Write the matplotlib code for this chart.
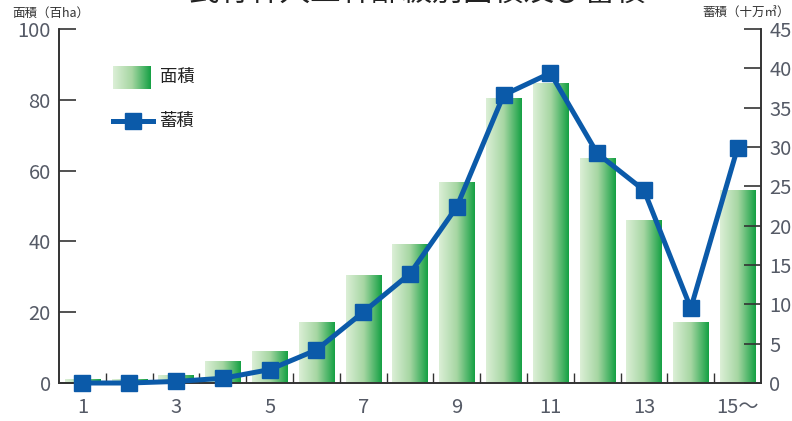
import numpy as np
import matplotlib
matplotlib.use('Agg')
import matplotlib.pyplot as plt
from matplotlib.colors import LinearSegmentedColormap
from matplotlib.lines import Line2D

plt.rcParams['font.family'] = ['Liberation Sans Narrow', 'Noto Sans CJK JP', 'DejaVu Sans']

# age classes 1..15 (15 = 15~)
classes = list(range(1, 16))
xlabels = ['1', '', '3', '', '5', '', '7', '', '9', '', '11', '', '13', '', '15～']
area = [1, 1, 2, 6, 9, 17, 30.5, 39, 56.5, 80.5, 84.5, 63.5, 46, 17, 54.5]   # 百ha
stock = [0, 0, 0.2, 0.6, 1.7, 4.2, 9, 13.9, 22.4, 36.6, 39.4, 29.2, 24.5, 9.5, 29.9]  # 十万m3

W, H = 792, 421
fig = plt.figure(figsize=(W / 100, H / 100), dpi=100)
ax = fig.add_axes([59 / W, 1 - 383 / H, (761 - 59) / W, (383 - 29) / H])
ax2 = ax.twinx()

green = LinearSegmentedColormap.from_list('g', ['#dcefd7', '#a6d6a2', '#14a043'])
grad = np.linspace(0, 1, 256).reshape(1, -1)

bars = ax.bar(classes, area, width=0.75, color='none', edgecolor='none')
for b in bars:
    x0, w, h = b.get_x(), b.get_width(), b.get_height()
    ax.imshow(grad, extent=[x0, x0 + w, 0, h], aspect='auto', cmap=green, zorder=1)

ax.set_xlim(0.5, 15.5)
ax.set_ylim(0, 100)
ax.set_yticks([0, 20, 40, 60, 80, 100])

ax2.plot(classes, stock, color='#0b5aa9', lw=3.6, marker='s', ms=11.5, zorder=3, clip_on=False)
ax2.set_ylim(0, 45)
ax2.set_yticks(range(0, 46, 5))

ax.set_xticks([c + 0.5 for c in classes[:-1]])
ax.set_xticklabels([])
ax.set_xticks(classes, minor=True)
ax.set_xticklabels(xlabels, minor=True)
ax.tick_params(axis='x', which='major', direction='in', length=7, width=1, color='#333333')
ax.tick_params(axis='x', which='minor', length=0, pad=10, labelsize=14.5, labelcolor='#555a66')
ax.tick_params(axis='y', direction='in', length=12, width=1.2, color='#333333',
               labelsize=14.5, labelcolor='#555a66', pad=6)
ax2.tick_params(axis='y', direction='in', length=12, width=1.2, color='#333333',
                labelsize=14.5, labelcolor='#555a66', pad=6)

for a in (ax, ax2):
    a.spines['top'].set_visible(False)
    for s in ('left', 'right', 'bottom'):
        a.spines[s].set_color('#333333')
        a.spines[s].set_linewidth(1.2)

# axis unit labels
fig.text(12 / W, 1 - 13 / H, '面積（百ha）', fontsize=9, color='#333333', va='center', ha='left')
fig.text(790 / W, 1 - 13 / H, '蓄積（十万㎥）', fontsize=9, color='#333333', va='center', ha='right')

# title (mostly above the top edge, as in the reference)
fig.text(417 / W, 1 - 8 / H, '民有林人工林齢級別面積及び蓄積', fontsize=22, color='#222222',
         ha='center', va='bottom')

# legend
lax = fig.add_axes([113 / W, 1 - 89 / H, 38 / W, 23 / H])
lax.imshow(grad, aspect='auto', cmap=green, extent=[0, 1, 0, 1])
lax.axis('off')
fig.text(160 / W, 1 - 77 / H, '面積', fontsize=12.5, color='#222222', va='center')
fig.add_artist(Line2D([113 / W, 153 / W], [1 - 121 / H, 1 - 121 / H], transform=fig.transFigure,
                      color='#0b5aa9', lw=3.6))
fig.add_artist(Line2D([133 / W], [1 - 121 / H], transform=fig.transFigure,
                      color='#0b5aa9', marker='s', ms=11.5))
fig.text(160 / W, 1 - 121 / H, '蓄積', fontsize=12.5, color='#222222', va='center')

fig.savefig('out.png', dpi=100)
